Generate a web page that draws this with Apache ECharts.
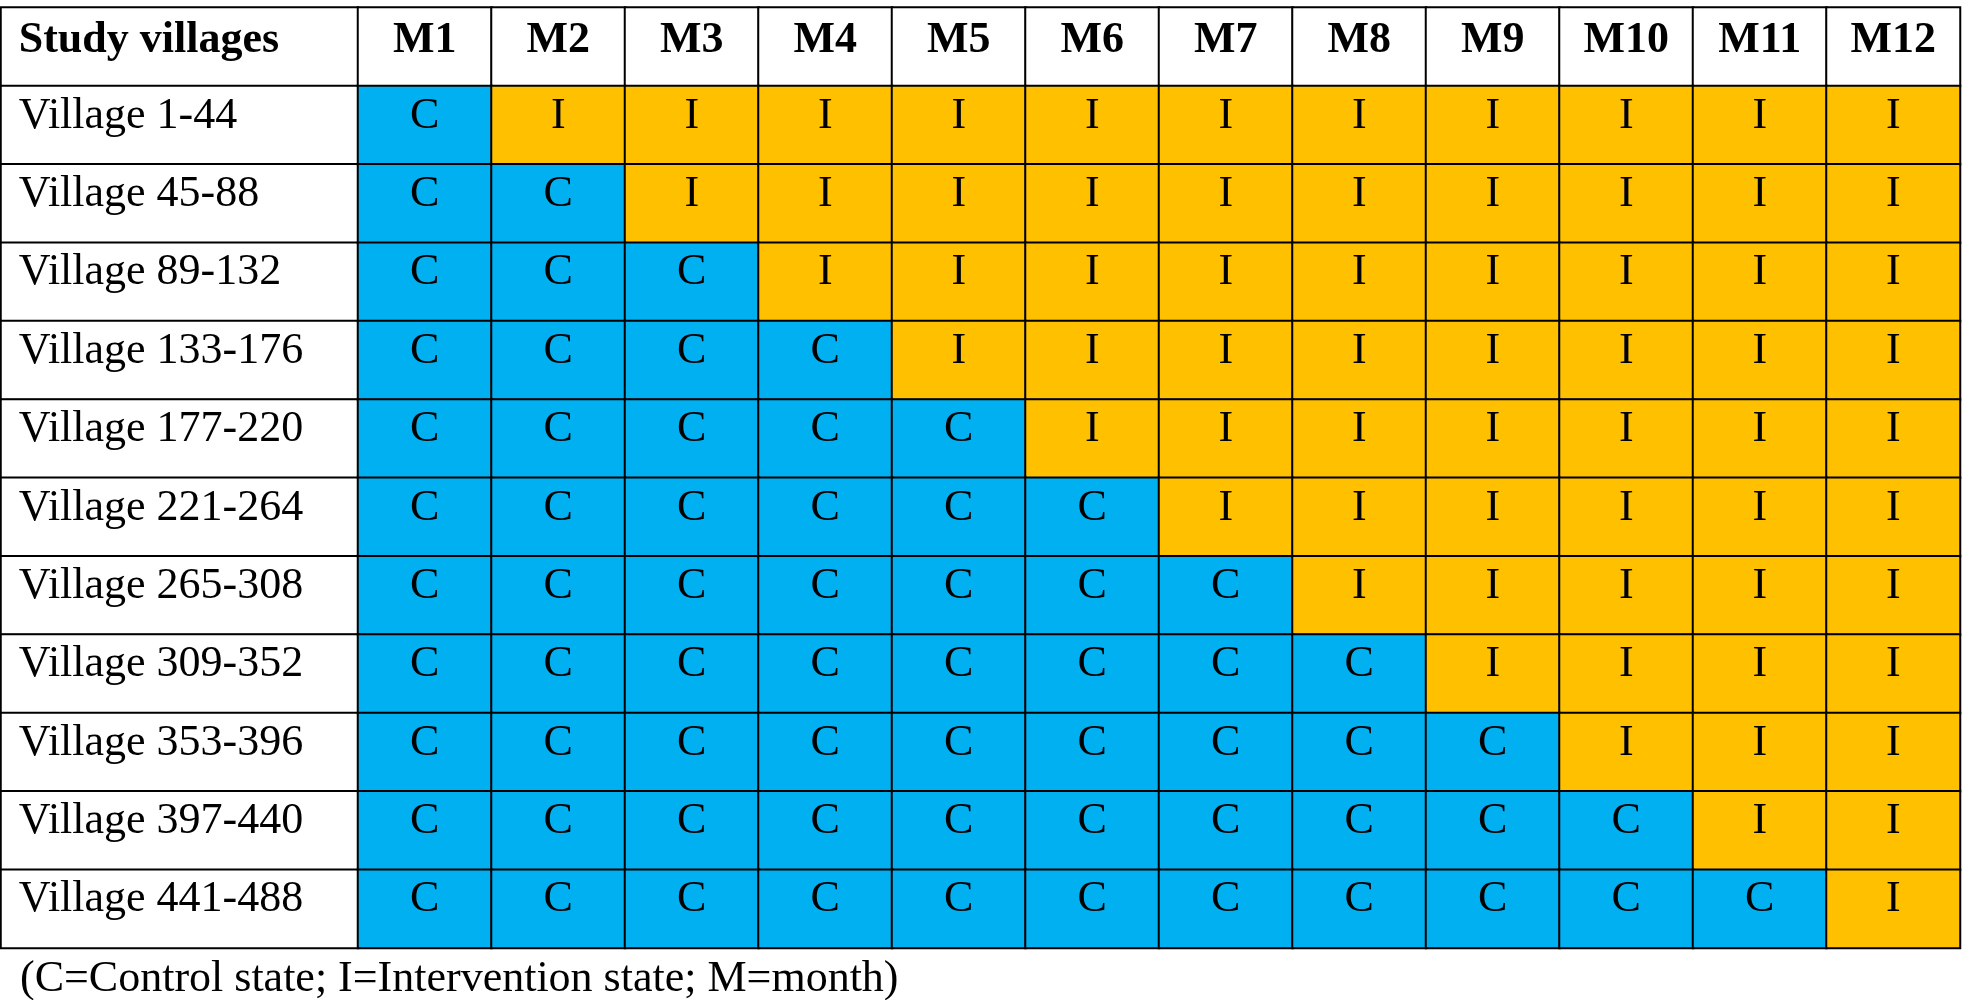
<!DOCTYPE html>
<html>
<head>
<meta charset="utf-8">
<script src="https://cdn.jsdelivr.net/npm/echarts@6/dist/echarts.min.js"></script>
<style>
html,body{margin:0;padding:0;background:#fff;}
#chart{width:1968px;height:1000px;}
</style>
</head>
<body>
<div id="chart"></div>
<script>
const headerLabel = 'Study villages';
const months = ['M1','M2','M3','M4','M5','M6','M7','M8','M9','M10','M11','M12'];
const villages = ['Village 1-44','Village 45-88','Village 89-132','Village 133-176','Village 177-220','Village 221-264','Village 265-308','Village 309-352','Village 353-396','Village 397-440','Village 441-488'];
const states = [
  'CIIIIIIIIIII',
  'CCIIIIIIIIII',
  'CCCIIIIIIIII',
  'CCCCIIIIIIII',
  'CCCCCIIIIIII',
  'CCCCCCIIIIII',
  'CCCCCCCIIIII',
  'CCCCCCCCIIII',
  'CCCCCCCCCIII',
  'CCCCCCCCCCII',
  'CCCCCCCCCCCI'
];
const footnote = '(C=Control state; I=Intervention state; M=month)';

const FONT = "'Liberation Serif', 'Times New Roman', serif";
const rows = [headerLabel].concat(villages);

const labelData = [{value:[0,0,-1], text:headerLabel, label:{fontWeight:'bold', offset:[0,-6]}}];
villages.forEach((v,i)=>labelData.push({value:[0,i+1,-1], text:v}));

const cellData = [];
months.forEach((m,j)=>cellData.push({value:[j,0,-1], text:m, label:{fontWeight:'bold', offset:[0,-6]}}));
states.forEach((row,i)=>{
  for (let j=0;j<row.length;j++){
    const s = row[j];
    cellData.push({value:[j,i+1, s==='C'?0:1], text:s});
  }
});

const chart = echarts.init(document.getElementById('chart'));
const common = {
  itemStyle:{borderColor:'#000', borderWidth:2},
  emphasis:{disabled:true},
  label:{show:true, color:'#000', fontFamily:FONT, fontSize:44, offset:[0,-9],
    formatter:p=>p.data.text}
};
chart.setOption({
  animation:false,
  backgroundColor:'#fff',
  title:{text:footnote, left:20, top:957, padding:0,
    textStyle:{fontFamily:FONT, fontSize:44, fontWeight:'normal', color:'#000'}},
  grid:[
    {left:1, top:7.5, width:357, height:940.5},
    {left:358, top:7.5, width:1602, height:940.5}
  ],
  xAxis:[
    {type:'category', gridIndex:0, data:['col'], show:false},
    {type:'category', gridIndex:1, data:months, show:false}
  ],
  yAxis:[
    {type:'category', gridIndex:0, data:rows, inverse:true, show:false},
    {type:'category', gridIndex:1, data:rows, inverse:true, show:false}
  ],
  visualMap:{type:'piecewise', show:false, dimension:2, seriesIndex:[0,1],
    pieces:[{value:-1,color:'#ffffff'},{value:0,color:'#00b0f0'},{value:1,color:'#ffc000'}]},
  series:[
    Object.assign({type:'heatmap', xAxisIndex:0, yAxisIndex:0, data:labelData}, common,
      {label:Object.assign({}, common.label, {position:'insideLeft', distance:19})}),
    Object.assign({type:'heatmap', xAxisIndex:1, yAxisIndex:1, data:cellData}, common)
  ]
});
</script>
</body>
</html>
